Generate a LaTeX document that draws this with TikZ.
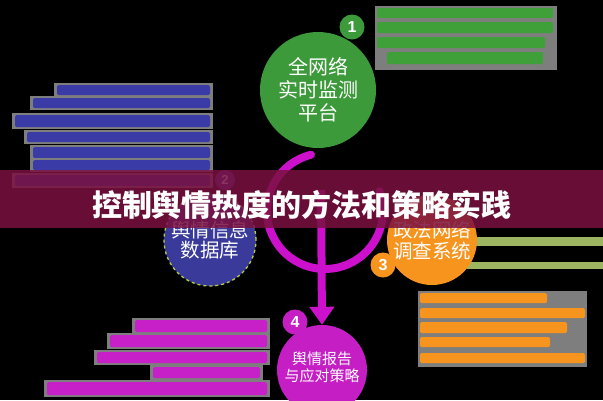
\documentclass[tikz,border=0pt]{standalone}
\usepackage{fontspec}
\newfontfamily\cjk{Noto Sans CJK SC}
\newfontfamily\arial{Liberation Sans}
\usetikzlibrary{arrows.meta}
\definecolor{cgreen}{HTML}{3C9A3A}
\definecolor{cnavy}{HTML}{3A3A9A}
\definecolor{corange}{HTML}{F7941E}
\definecolor{cmag}{HTML}{C41EC4}
\definecolor{cring}{HTML}{CC10CC}
\definecolor{cgray}{HTML}{7E7E7E}
\definecolor{colive}{HTML}{9DB561}
\definecolor{cdash}{HTML}{B5CC4A}
\definecolor{cbanner}{HTML}{7A1040}
\definecolor{tgreen}{HTML}{3FA03A}
\definecolor{tblue}{HTML}{3B3BA8}
\definecolor{torange}{HTML}{F7941E}
\definecolor{tmag}{HTML}{C820C8}
\tikzset{
  bigcirc/.style={circle, inner sep=0pt, text=white, align=center},
  badge/.style={circle, inner sep=0pt, minimum size=25pt, text=white,
    font=\arial\bfseries\fontsize{16}{16}\selectfont},
  graybox/.style={fill=cgray},
  tbar/.style={rounded corners=1.5pt},
}
\begin{document}
\begin{tikzpicture}[x=1pt,y=-1pt]
\useasboundingbox (0,0) rectangle (603,400);
\fill[black] (0,0) rectangle (603,400);

% green text block (top right)
\fill[graybox] (375,6) rectangle (557,70);
\fill[tbar,tgreen] (377,8) rectangle (553,18);
\fill[tbar,tgreen] (377,22) rectangle (553,33);
\fill[tbar,tgreen] (377,37) rectangle (545,48);
\fill[tbar,tgreen] (387,52) rectangle (543,64);

% blue text block (left)
\foreach \a/\b/\c in {57/85/95, 33/98/108, 15/115/127, 27/132/142, 33/147/158, 33/160/170, 15/175/186}{
  \fill[graybox] (\a-3,\b-2) rectangle (213,\c+2);
  \fill[tbar,tblue] (\a,\b) rectangle (210,\c);
}

% orange text block (right)
\fill[graybox] (418,291) rectangle (587,367);
\foreach \a/\b/\c in {547/293/303, 585/308/318, 567/322/333, 550/337/347, 585/353/363}{
  \fill[tbar,torange] (420,\b) rectangle (\a,\c);
}

% olive bars
\fill[colive] (470,237) rectangle (603,246);
\fill[colive] (467,262) rectangle (603,269);

% magenta text block (bottom left)
\foreach \a/\b/\c/\d in {135/320/332/267, 110/335/347/267, 97/352/363/267, 153/367/378/260, 47/382/395/267}{
  \fill[graybox] (\a-3,\b-2) rectangle (\d+3,\c+2);
  \fill[tbar,tmag] (\a,\b) rectangle (\d,\c);
}

% ring and stem
\coordinate (rc) at (325,211);
\draw[cring, line width=8pt, line cap=round] (rc) ++(256:58) arc[start angle=256, end angle=-20, radius=58];
\coordinate (stemtop) at (321,190);

% circles
\node[bigcirc, fill=cgreen, minimum size=116pt, font=\cjk\fontsize{20}{23}\selectfont] (mon) at (318,90) {全网络\\实时监测\\平台};
\node[bigcirc, fill=cnavy, draw=cdash, dashed, line width=1.3pt, minimum size=92pt, font=\cjk\fontsize{19.5}{20}\selectfont] (db) at (210,240) {舆情信息\\数据库};
\node[bigcirc, fill=corange, minimum size=90pt, font=\cjk\fontsize{19.5}{21}\selectfont] (inv) at (432,240) {政法网络\\调查系统};
\node[bigcirc, fill=cmag, minimum size=90pt, font=\cjk\fontsize{15}{16.5}\selectfont] (rep) at (322,370) {\raisebox{6pt}{\shortstack{舆情报告\\与应对策略}}};

\draw[cring, line width=8pt, -{Triangle[width=24pt,length=18pt]}] (stemtop) -- (rep.north);

% badges
\node[badge, fill=cgreen] (b1) at (352,27) {1};
\node[badge, fill=cnavy, minimum size=20pt, font=\arial\bfseries\fontsize{13}{13}\selectfont] (b2) at (225,180) {2};
\node[badge, fill=corange] (b3) at (383,265) {3};
\node[badge, fill=cmag] (b4) at (295,322) {4};

% banner
\fill[cbanner, opacity=0.85] (0,170) rectangle (603,228);
\node[font=\cjk\bfseries\fontsize{30}{30}\selectfont, text=white] (title) at (302,205) {控制舆情热度的方法和策略实践};
\end{tikzpicture}
\end{document}
